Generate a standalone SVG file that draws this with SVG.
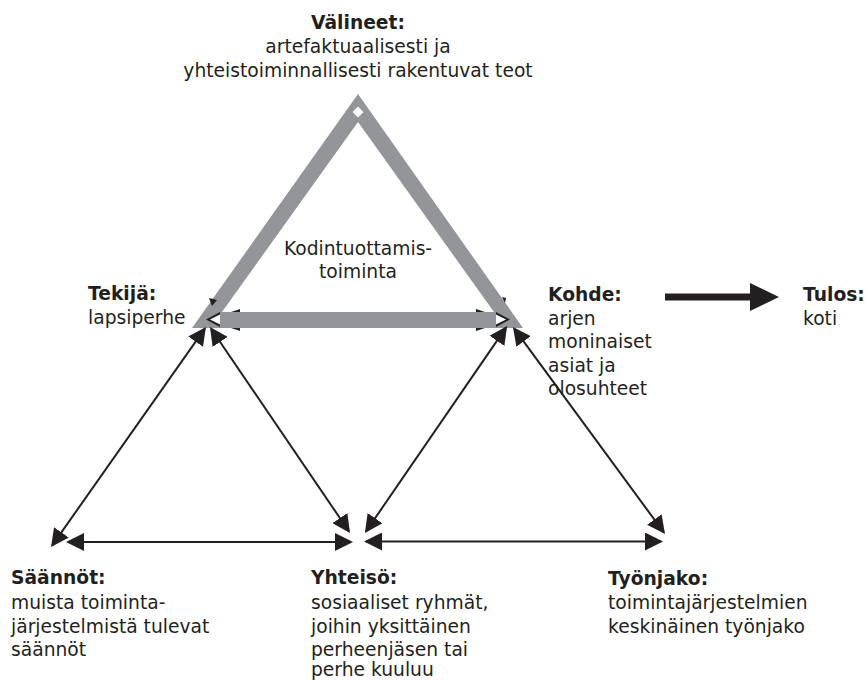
<svg xmlns="http://www.w3.org/2000/svg" width="866" height="681" viewBox="0 0 866 681">
  <defs>
    <style>
      text { font-family: "DejaVu Sans", "Open Sans", "Liberation Sans", sans-serif; font-size: 18.7px; fill: #231f20; }
      .b { font-weight: 700; }
      .c { text-anchor: middle; }
      .arr { stroke: #231f20; stroke-width: 2; fill: none; marker-start: url(#ah); marker-end: url(#ah); }
      .gray { fill: #939598; }
      .blk { fill: #231f20; }
      .wht { fill: #ffffff; }
    </style>
    <marker id="ah" viewBox="0 0 18 18" markerWidth="18" markerHeight="18" markerUnits="userSpaceOnUse" refX="16" refY="9" orient="auto-start-reverse">
      <path d="M0,0 L18,9 L0,18 Z" fill="#231f20"/>
    </marker>
  </defs>

  <g id="connectors">
    <!-- hidden black heads under the gray band (barbs) -->
    <polygon class="blk" points="207,320 240,309 240,331"/>
    <polygon class="blk" points="509,320 476,309 476,331"/>
    <!-- gray activity triangle -->
    <path class="gray" fill-rule="evenodd" d="M358,94 L523,328 L192,328 Z M358,122 L222,312 L494,312 Z"/>
    <!-- apex gap -->
    <polygon class="wht" points="358,106.5 363.5,112 358,117.5 352.5,112"/>
    <!-- left corner arrowhead bits -->
    <polygon class="blk" points="206,319.5 220,312 220,327"/>
    <polygon class="wht" points="210,319.5 220,314.5 220,324.5"/>
    <polygon class="blk" points="209,298 217,300 212,306"/>
    <!-- right corner arrowhead bits -->
    <polygon class="blk" points="510,319.5 496,312 496,327"/>
    <polygon class="wht" points="506,319.5 496,314.5 496,324.5"/>
    <polygon class="blk" points="502,297 506,298 505,303"/>

    <!-- black double-headed arrows -->
    <line class="arr" x1="52.2" y1="545.4" x2="204.8" y2="328.6"/>
    <line class="arr" x1="211.1" y1="328.7" x2="348.9" y2="531.3"/>
    <line class="arr" x1="506" y1="327.6" x2="366" y2="531.4"/>
    <line class="arr" x1="514.2" y1="328.6" x2="663.8" y2="532.4"/>
    <line class="arr" x1="68" y1="542" x2="351" y2="542"/>
    <line class="arr" x1="366" y1="541.5" x2="661" y2="541.5"/>

    <!-- Kohde -> Tulos -->
    <rect class="blk" x="665" y="293.5" width="87" height="7"/>
    <polygon class="blk" points="750,283 779,297 750,311"/>
  </g>

  <g id="valineet">
    <text class="b c" x="358" y="28.5">Välineet:</text>
    <text class="c" x="358" y="52.5">artefaktuaalisesti ja</text>
    <text class="c" x="358" y="76.5">yhteistoiminnallisesti rakentuvat teot</text>
  </g>

  <g id="toiminta">
    <text class="c" x="358" y="255">Kodintuottamis-</text>
    <text class="c" x="358" y="278">toiminta</text>
  </g>

  <g id="tekija">
    <text class="b" x="88" y="300">Tekijä:</text>
    <text x="88" y="323.5">lapsiperhe</text>
  </g>

  <g id="kohde">
    <text class="b" x="548" y="301">Kohde:</text>
    <text x="548" y="324.5">arjen</text>
    <text x="548" y="348">moninaiset</text>
    <text x="548" y="371.5">asiat ja</text>
    <text x="548" y="395">olosuhteet</text>
  </g>

  <g id="tulos">
    <text class="b" x="803" y="301">Tulos:</text>
    <text x="803" y="324.5">koti</text>
  </g>

  <g id="saannot">
    <text class="b" x="11" y="584">Säännöt:</text>
    <text x="11" y="608.5">muista toiminta-</text>
    <text x="11" y="632.5">järjestelmistä tulevat</text>
    <text x="11" y="656">säännöt</text>
  </g>

  <g id="yhteiso">
    <text class="b" x="311" y="584">Yhteisö:</text>
    <text x="311" y="608.5">sosiaaliset ryhmät,</text>
    <text x="311" y="632.5">joihin yksittäinen</text>
    <text x="311" y="656">perheenjäsen tai</text>
    <text x="311" y="676">perhe kuuluu</text>
  </g>

  <g id="tyonjako">
    <text class="b" x="608" y="585">Työnjako:</text>
    <text x="608" y="609">toimintajärjestelmien</text>
    <text x="608" y="632.5">keskinäinen työnjako</text>
  </g>
</svg>
